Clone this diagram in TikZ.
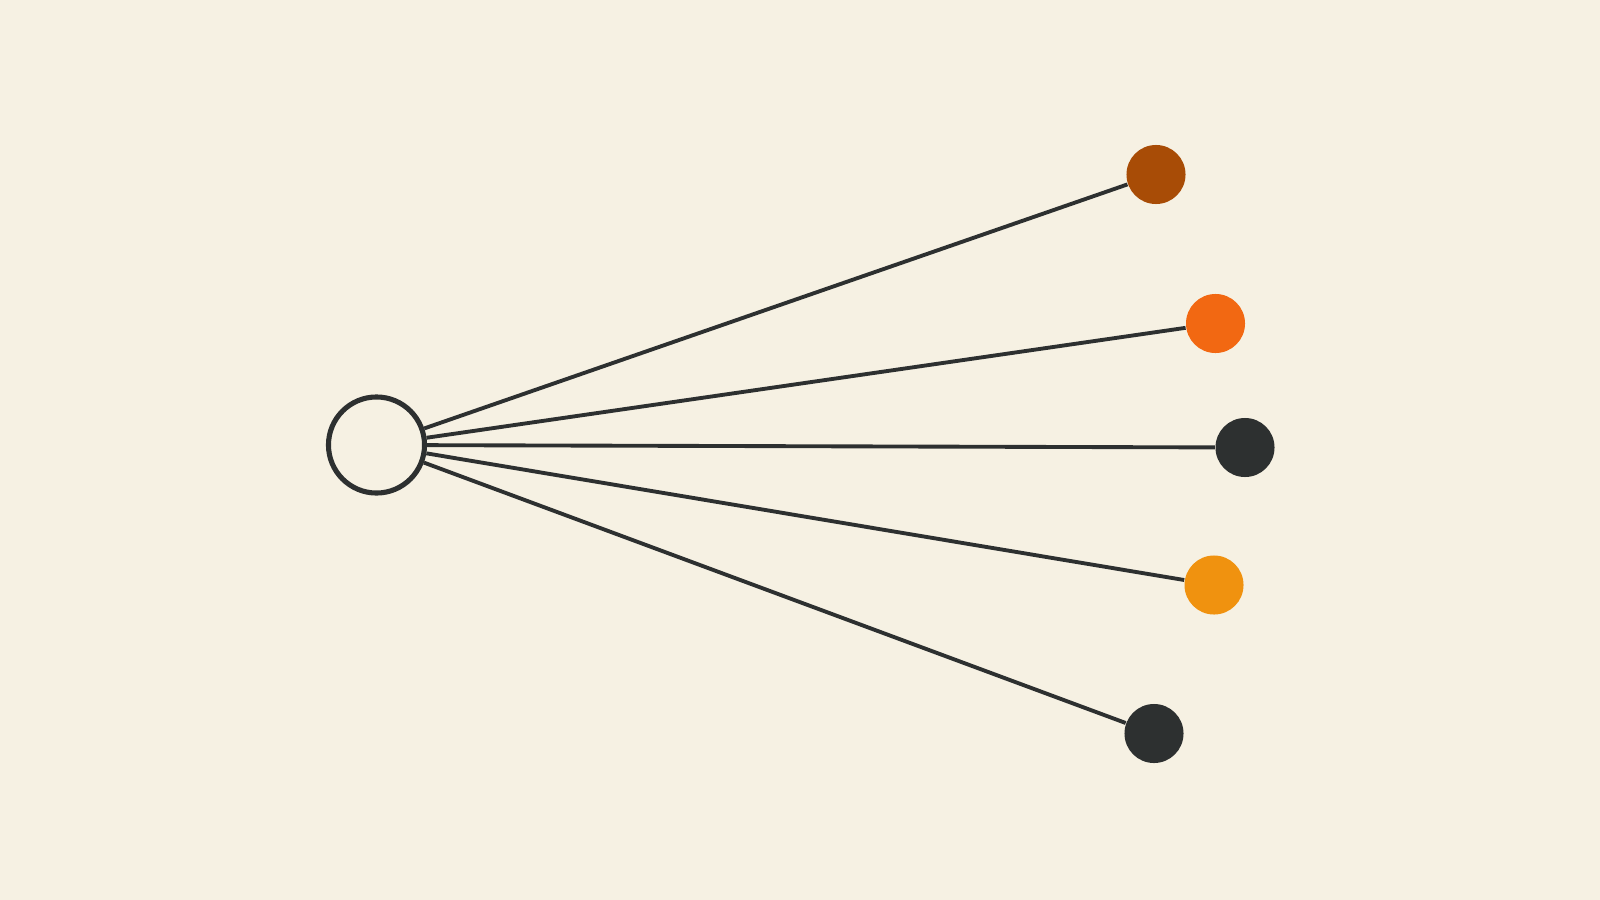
\documentclass[tikz,border=0pt]{standalone}
\usepackage{tikz}

\definecolor{paper}{HTML}{F6F1E3}
\definecolor{ink}{HTML}{2D3030}
\definecolor{rust}{HTML}{A84C06}
\definecolor{flame}{HTML}{F26812}
\definecolor{amber}{HTML}{F0920F}

\tikzset{
  hub/.style={circle,draw=ink,line width=1.45pt,fill=paper,minimum size=0.96cm,inner sep=0pt},
  leaf/.style={circle,fill=#1,minimum size=0.59cm,inner sep=0pt},
  spoke/.style={draw=ink,line width=1.1pt}
}

\begin{document}
\begin{tikzpicture}[x=0.01cm,y=-0.01cm]
      %paper background, fixes the 1600x900 frame
    \fill[paper] (0,0) rectangle (1600,900);
    \useasboundingbox (0,0) rectangle (1600,900);
      %the centre and its five ends
    \node[hub] (hub) at (376.5,445) {};
    \node[leaf=rust]  (top)    at (1156,174.5) {};
    \node[leaf=flame] (upper)  at (1215.5,323.5) {};
    \node[leaf=ink]   (mid)    at (1245,447.5) {};
    \node[leaf=amber] (lower)  at (1214,585) {};
    \node[leaf=ink]   (bottom) at (1154,733.5) {};
      %spokes from the centre
    \foreach \n in {top,upper,mid,lower,bottom}
      \draw[spoke] (hub) -- (\n);
\end{tikzpicture}
\end{document}
